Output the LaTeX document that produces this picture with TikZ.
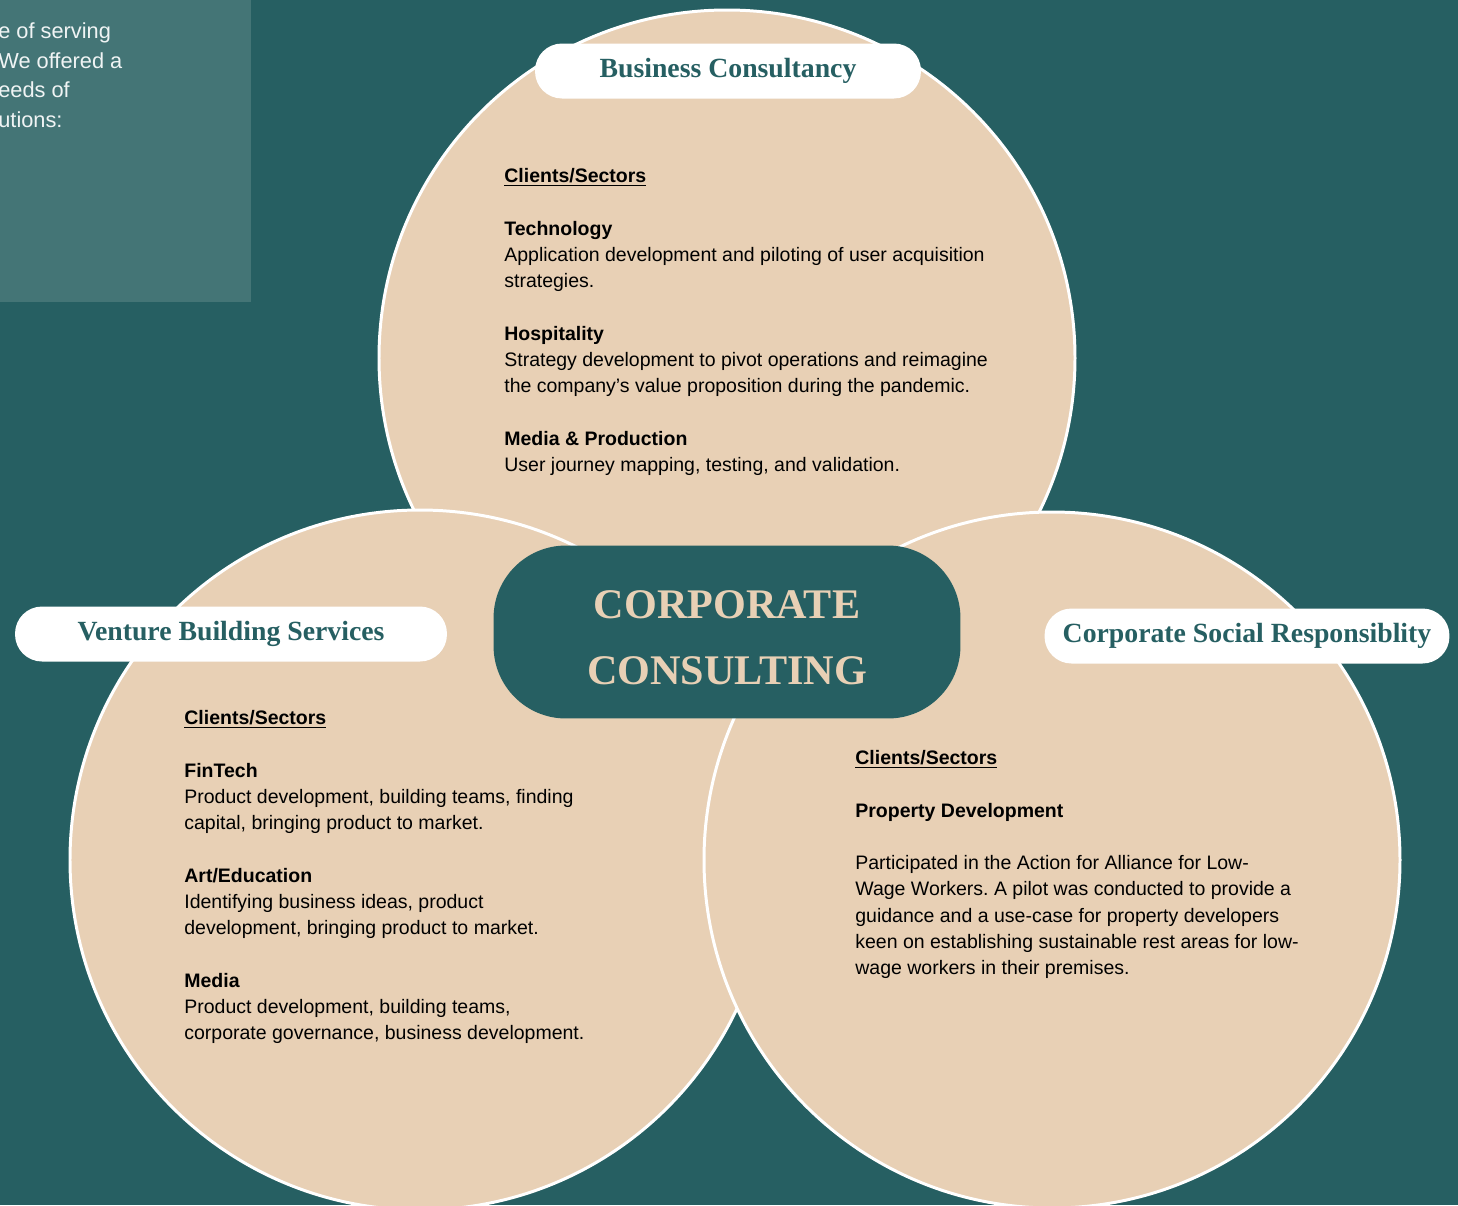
\documentclass[tikz,border=0pt]{standalone}
\usepackage{fontspec}
\setmainfont{Liberation Sans}
\newfontfamily\titlefont{Liberation Serif}
\usetikzlibrary{positioning}
\pgfdeclarelayer{bg}
\pgfsetlayers{bg,main}
\definecolor{deepteal}{RGB}{38,95,98}
\definecolor{sand}{RGB}{232,208,181}
\definecolor{paneteal}{RGB}{68,117,118}
\frenchspacing
\tikzset{
  sector/.style={draw=white, line width=1.7pt, fill=sand},
  pill/.style={fill=white, rounded corners=0.54cm, minimum height=1.1cm, inner xsep=0pt,
    font=\titlefont\bfseries\fontsize{15.8}{18}\selectfont, text=deepteal},
  body/.style={anchor=north west, align=left, inner sep=0pt, font=\fontsize{11.1}{14.95}\selectfont},
}
\begin{document}
\begin{tikzpicture}[x=0.02cm, y=-0.02cm]
  \useasboundingbox (0,0) rectangle (1458,1205);

  \begin{pgfonlayer}{bg}    % backdrop and side panel
      \fill[deepteal] (0,0) rectangle (1458,1205);
      \fill[paneteal] (0,0) rectangle (251,302);
  \end{pgfonlayer}
  \node [anchor=north west, align=left, inner sep=0pt, text=white!92!paneteal,
    font=\fontsize{12.4}{17}\selectfont] (intro) at (-2,22)
    {e of serving\\ We offered a\\ eeds of\\ utions:};

  % the three circles
  \draw [sector] (727,358) circle (348);
  \draw [sector] (420,860) circle (350);
  \draw [sector] (1052,860) circle (348);

  % centre
  \node [fill=deepteal, rounded corners=1.45cm, minimum width=9.34cm, minimum height=3.46cm]
    (core) at (727,632) {};
  \node [align=center, text=sand, font=\titlefont\bfseries\fontsize{24}{37.4}\selectfont]
    (coretext) at ([yshift=-0.12cm]core.center) {CORPORATE\\CONSULTING};

  % titles
  \node [pill, minimum width=7.72cm] (bc) at (728,71) {\raisebox{-2pt}{Business Consultancy}};
  \node [pill, minimum width=8.64cm] (vbs) at (231,634) {\raisebox{-1pt}{Venture Building Services}};
  \node [pill, minimum width=8.1cm] (csr) at (1247,636) {\raisebox{-1pt}{Corporate Social Responsiblity}};

  % sector texts
  \node [body] (bctext) at (504,168) {\textbf{\underline{Clients/Sectors}}\\[14.95pt]
    \textbf{Technology}\\
    Application development and piloting of user acquisition\\
    strategies.\\[14.95pt]
    \textbf{Hospitality}\\
    Strategy development to pivot operations and reimagine\\
    the company's value proposition during the pandemic.\\[14.95pt]
    \textbf{Media \& Production}\\
    User journey mapping, testing, and validation.};
  \node [body] (vbstext) at (184,710) {\textbf{\underline{Clients/Sectors}}\\[14.95pt]
    \textbf{FinTech}\\
    Product development, building teams, finding\\
    capital, bringing product to market.\\[14.95pt]
    \textbf{Art/Education}\\
    Identifying business ideas, product\\
    development, bringing product to market.\\[14.95pt]
    \textbf{Media}\\
    Product development, building teams,\\
    corporate governance, business development.};
  \node [body] (csrtext) at (855,750) {\textbf{\underline{Clients/Sectors}}\\[14.95pt]
    \textbf{Property Development}\\[14.95pt]
    Participated in the Action for Alliance for Low-\\
    Wage Workers. A pilot was conducted to provide a\\
    guidance and a use-case for property developers\\
    keen on establishing sustainable rest areas for low-\\
    wage workers in their premises.};
\end{tikzpicture}
\end{document}
